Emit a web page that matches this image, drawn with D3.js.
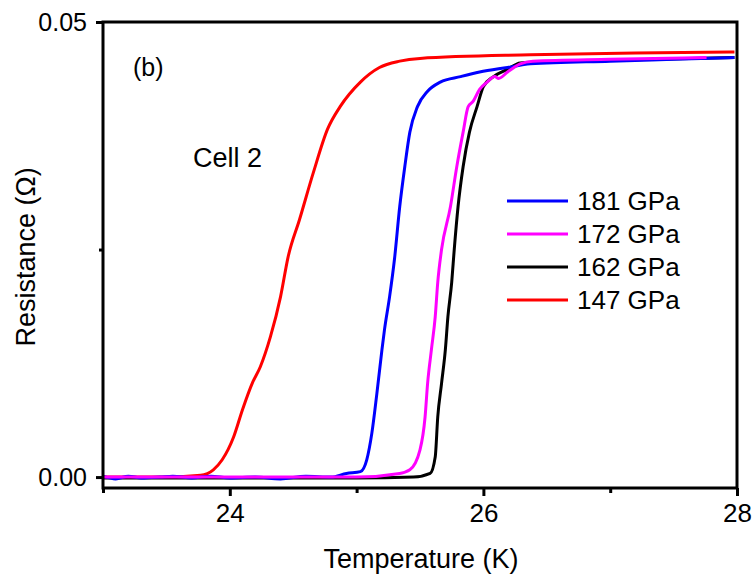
<!DOCTYPE html>
<html>
<head>
<meta charset="utf-8">
<script src="https://cdn.jsdelivr.net/npm/d3@7"></script>
<style>
  body { margin: 0; background: #fff; }
  svg text { font-family: "Liberation Sans", Arial, sans-serif; fill: #000; }
</style>
</head>
<body>
<svg id="chart"></svg>
<script>
// values: [temperature K, resistance Ohm]
var s181 = [[23.0, 0.0001], [23.1, -0.0002], [23.2, 0.0001], [23.3, -0.0001], [23.45, 0.0000],
    [23.55, 0.0001], [23.7, -0.0001], [23.85, 0.0001], [24.0, -0.0001], [24.2, 0.0000],
    [24.4, -0.0002], [24.6, 0.0001], [24.8, 0.0000], [24.92, 0.0004], [25.03, 0.0006],
    [25.08, 0.0019], [25.12, 0.0048], [25.16, 0.0092], [25.20, 0.0140], [25.22, 0.0162],
    [25.26, 0.0198], [25.30, 0.0241], [25.34, 0.0297], [25.38, 0.0341], [25.42, 0.0379],
    [25.48, 0.0407], [25.56, 0.0424], [25.66, 0.0434], [25.82, 0.0440], [25.97, 0.0445],
    [26.19, 0.0450], [26.37, 0.0454], [27.0, 0.0457], [27.5, 0.0459], [27.98, 0.0461]];

var s172 = [[23.0, 0.0000], [24.0, 0.0000], [25.0, 0.0000], [25.34, 0.0004], [25.42, 0.0008],
    [25.50, 0.0030], [25.54, 0.0066], [25.56, 0.0103], [25.59, 0.0140], [25.62, 0.0176],
    [25.64, 0.0214], [25.67, 0.0250], [25.74, 0.0297], [25.79, 0.0341], [25.84, 0.0379],
    [25.88, 0.0407], [25.92, 0.0413], [25.97, 0.0426], [26.03, 0.0434], [26.09, 0.0440],
    [26.12, 0.0438], [26.19, 0.0445], [26.29, 0.0454], [26.39, 0.0457], [27.0, 0.0459],
    [27.76, 0.0461]];

var s162 = [[23.0, -0.0001], [24.0, -0.0001], [25.0, -0.0001], [25.45, 0.0000], [25.58, 0.0004],
    [25.62, 0.0022], [25.64, 0.0066], [25.67, 0.0103], [25.70, 0.0140], [25.72, 0.0176],
    [25.75, 0.0214], [25.77, 0.0250], [25.80, 0.0297], [25.84, 0.0341], [25.89, 0.0379],
    [25.95, 0.0407], [26.00, 0.0429], [26.08, 0.0440], [26.19, 0.0448], [26.29, 0.0455],
    [27.0, 0.0458], [27.98, 0.0461]];

var s147 = [[23.0, 0.0000], [23.5, 0.0000], [23.77, 0.0002], [23.87, 0.0008], [23.94, 0.0019],
    [24.03, 0.0044], [24.10, 0.0074], [24.18, 0.0104], [24.24, 0.0121], [24.32, 0.0154],
    [24.40, 0.0198], [24.46, 0.0242], [24.55, 0.0283], [24.66, 0.0335], [24.77, 0.0382],
    [24.87, 0.0407], [25.03, 0.0434], [25.18, 0.0450], [25.34, 0.0457], [25.50, 0.0460],
    [26.37, 0.0464], [27.2, 0.0466], [27.98, 0.0467]];

var seriesNames = ["181 GPa", "172 GPa", "162 GPa", "147 GPa"];
var seriesColors = ["#0000ff", "#ff00ff", "#000000", "#ff0000"];
var seriesData = [s181, s172, s162, s147];
var drawOrder = [3, 2, 0, 1]; // red under, magenta on top

var xTicks = [24, 26, 28];
var xMinor = [23, 25, 27];
var yTicks = [0, 0.05];
var yMinor = [0.025];

// note: "top" clashes with window.top, so plot edges get their own names
var width = 755,
    height = 579;
var plotLeft = 103, plotRight = 737, plotTop = 22, plotBottom = 488;

var svg = d3.select("#chart").attr("width", width).attr("height", height);

var x = d3.scaleLinear().domain([23, 28]).range([plotLeft, plotRight]);
var y = d3.scaleLinear().domain([-0.0012, 0.05]).range([plotBottom, plotTop]);

// curves
var line = d3.line()
    .x(function(d) { return x(d[0]); })
    .y(function(d) { return y(d[1]); })
    .curve(d3.curveMonotoneX);

drawOrder.forEach(function(i) {
    svg.append("path")
        .attr("d", line(seriesData[i]))
        .attr("fill", "none")
        .attr("stroke", seriesColors[i])
        .attr("stroke-width", 3)
        .attr("stroke-linejoin", "round");
});

// frame
svg.append("rect")
    .attr("x", plotLeft).attr("y", plotTop)
    .attr("width", plotRight - plotLeft).attr("height", plotBottom - plotTop)
    .attr("fill", "none").attr("stroke", "#000").attr("stroke-width", 3);

// x axis
var xAxis = svg.append("g").attr("transform", "translate(0," + plotBottom + ")")
    .call(d3.axisBottom(x).tickValues(xTicks).tickSize(8).tickPadding(8)
        .tickFormat(d3.format("d")));
xAxis.select(".domain").remove();
xAxis.selectAll("line").attr("stroke-width", 3);
xAxis.selectAll("text").attr("font-size", 26);

var xAxisMinor = svg.append("g").attr("transform", "translate(0," + plotBottom + ")")
    .call(d3.axisBottom(x).tickValues(xMinor).tickSize(5).tickFormat(""));
xAxisMinor.select(".domain").remove();
xAxisMinor.selectAll("line").attr("stroke-width", 3);

// y axis
var yAxis = svg.append("g").attr("transform", "translate(" + plotLeft + ",0)")
    .call(d3.axisLeft(y).tickValues(yTicks).tickSize(7).tickPadding(9)
        .tickFormat(d3.format(".2f")));
yAxis.select(".domain").remove();
yAxis.selectAll("line").attr("stroke-width", 3);
yAxis.selectAll("text").attr("font-size", 25);

var yAxisMinor = svg.append("g").attr("transform", "translate(" + plotLeft + ",0)")
    .call(d3.axisLeft(y).tickValues(yMinor).tickSize(4).tickFormat(""));
yAxisMinor.select(".domain").remove();
yAxisMinor.selectAll("line").attr("stroke-width", 3);

svg.selectAll(".tick text").attr("font-family", "Liberation Sans, Arial, sans-serif").attr("fill", "#000");

// titles
svg.append("text")
    .attr("x", 421).attr("y", 568)
    .attr("text-anchor", "middle").attr("font-size", 27)
    .text("Temperature (K)");

svg.append("text")
    .attr("transform", "translate(35," + ((plotTop + plotBottom) / 2 + 2) + ") rotate(-90)")
    .attr("text-anchor", "middle").attr("font-size", 27)
    .text("Resistance (Ω)");

svg.append("text").attr("x", 133).attr("y", 76).attr("font-size", 25).text("(b)");
svg.append("text").attr("x", 193).attr("y", 167).attr("font-size", 27).text("Cell 2");

// legend
var legendY = [201, 234, 267, 300];
seriesNames.forEach(function(name, i) {
    svg.append("line")
        .attr("x1", 507).attr("x2", 568)
        .attr("y1", legendY[i]).attr("y2", legendY[i])
        .attr("stroke", seriesColors[i]).attr("stroke-width", 3);
    svg.append("text")
        .attr("x", 577).attr("y", legendY[i] + 9)
        .attr("font-size", 26)
        .text(name);
});
</script>
</body>
</html>
